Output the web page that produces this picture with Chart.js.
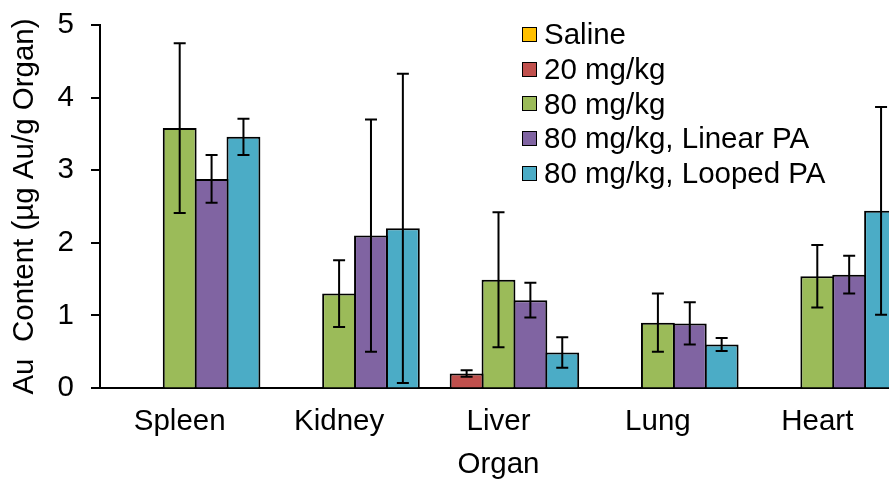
<!DOCTYPE html>
<html>
<head>
<meta charset="utf-8">
<script src="https://cdn.jsdelivr.net/npm/chart.js@4.4.1/dist/chart.umd.min.js"></script>
<style>
  html, body { margin: 0; padding: 0; background: #fff; overflow: hidden; }
  #wrap { position: relative; width: 900px; height: 480px; }
  #legend { position: absolute; left: 522px; top: 17px; font: 29.5px "Liberation Sans", Arial, sans-serif; color: #000; }
  .row { height: 34.8px; line-height: 34.8px; white-space: nowrap; }
  .box { display: inline-block; width: 13px; height: 13px; border: 1.6px solid #000; vertical-align: middle; margin-right: 7px; position: relative; top: -2px; }
</style>
</head>
<body>
<div id="wrap">
  <canvas id="chart"></canvas>
  <div id="legend"></div>
</div>
<script>
// ===== DATA =====
const organs = ['Spleen', 'Kidney', 'Liver', 'Lung', 'Heart'];
const seriesNames = ['Saline', '20 mg/kg', '80 mg/kg', '80 mg/kg, Linear PA', '80 mg/kg, Looped PA'];
const seriesColors = ['#FFC000', '#C0504D', '#9BBB59', '#8064A2', '#4BACC6'];

const saline     = [0, 0, 0, 0, 0];
const mg20       = [0, 0, 0.20, 0, 0];
const mg80       = [3.58, 1.30, 1.49, 0.90, 1.54];
const linearPA   = [2.88, 2.10, 1.21, 0.89, 1.56];
const loopedPA   = [3.46, 2.20, 0.49, 0.60, 2.44];

// error bars (+/-), null = none drawn
const salineErr   = [null, null, null, null, null];
const mg20Err     = [0, 0, 0.045, 0, 0];
const mg80Err     = [1.17, 0.46, 0.93, 0.40, 0.43];
const linearPAErr = [0.33, 1.60, 0.24, 0.29, 0.26];
const loopedPAErr = [0.25, 2.13, 0.21, 0.09, 1.43];

const yTicks = [0, 1, 2, 3, 4, 5];

const values = [saline, mg20, mg80, linearPA, loopedPA];
const errors = [salineErr, mg20Err, mg80Err, linearPAErr, loopedPAErr];

const FONT = '"Liberation Sans", Arial, sans-serif';
const FSIZE = 29.5;

// error bars drawn over the bars
const errorBars = {
  id: 'errorBars',
  afterDatasetsDraw(chart) {
    const ctx = chart.ctx;
    const y = chart.scales.y;
    ctx.save();
    ctx.strokeStyle = '#000';
    ctx.lineWidth = 2;
    chart.data.datasets.forEach((ds, di) => {
      const meta = chart.getDatasetMeta(di);
      meta.data.forEach((bar, i) => {
        const e = ds.errors[i];
        if (e === null || e === undefined) return;
        const v = ds.data[i];
        const top = y.getPixelForValue(v + e);
        const bot = y.getPixelForValue(Math.max(v - e, 0));
        const cap = 6;
        ctx.beginPath();
        ctx.moveTo(bar.x, top); ctx.lineTo(bar.x, bot);
        ctx.moveTo(bar.x - cap, top); ctx.lineTo(bar.x + cap, top);
        ctx.moveTo(bar.x - cap, bot); ctx.lineTo(bar.x + cap, bot);
        ctx.stroke();
      });
    });
    ctx.restore();
  }
};

// major / minor tick marks on the y axis
const yTickMarks = {
  id: 'yTickMarks',
  afterDraw(chart) {
    const ctx = chart.ctx;
    const y = chart.scales.y;
    const left = chart.chartArea.left;
    ctx.save();
    ctx.strokeStyle = '#000';
    ctx.lineWidth = 2;
    y.ticks.forEach(t => {
      const p = Math.round(y.getPixelForValue(t.value));
      const len = Number.isInteger(t.value) ? 9 : 5;
      ctx.beginPath();
      ctx.moveTo(left - len, p); ctx.lineTo(left, p);
      ctx.stroke();
    });
    ctx.restore();
  }
};

const datasets = seriesNames.map((name, i) => ({
  label: name,
  data: values[i],
  errors: errors[i],
  backgroundColor: seriesColors[i],
  borderColor: '#000',
  borderWidth: 2,
  categoryPercentage: 1,
  barPercentage: 1.0625
}));

new Chart(document.getElementById('chart'), {
  type: 'bar',
  data: { labels: organs, datasets },
  options: {
    responsive: true,
    maintainAspectRatio: false,
    animation: false,
    layout: { padding: { left: 0, right: 3, top: 25, bottom: 0 } },
    plugins: { legend: { display: false }, tooltip: { enabled: false } },
    scales: {
      x: {
        grid: { display: true, drawOnChartArea: false, drawTicks: false },
        border: { display: true, color: '#000', width: 2 },
        ticks: { color: '#000', font: { family: FONT, size: FSIZE }, padding: 16.3 },
        title: { display: true, text: 'Organ', color: '#000', font: { family: FONT, size: FSIZE }, padding: { top: 0, bottom: -2.9 } },
        afterFit(scale) { scale.height = 92; }
      },
      y: {
        min: 0,
        max: 5,
        grid: { display: true, drawOnChartArea: false, drawTicks: false },
        border: { display: true, color: '#000', width: 2 },
        ticks: {
          stepSize: 0.5,
          maxTicksLimit: 20,
          color: '#000',
          font: { family: FONT, size: FSIZE },
          padding: 26,
          callback: v => yTicks.includes(v) ? String(v) : ''
        },
        title: { display: true, text: 'Au  Content (µg Au/g Organ)', color: '#000', font: { family: FONT, size: FSIZE }, padding: { top: 7.5, bottom: 0 } },
        afterFit(scale) {
          scale.width = 100;
          scale.paddingTop = 0;
          scale.paddingBottom = 0;
        }
      }
    }
  },
  plugins: [errorBars, yTickMarks]
});

// legend
document.getElementById('legend').innerHTML = seriesNames.map((n, i) =>
  `<div class="row"><span class="box" style="background:${seriesColors[i]}"></span>${n}</div>`
).join('');
</script>
</body>
</html>
